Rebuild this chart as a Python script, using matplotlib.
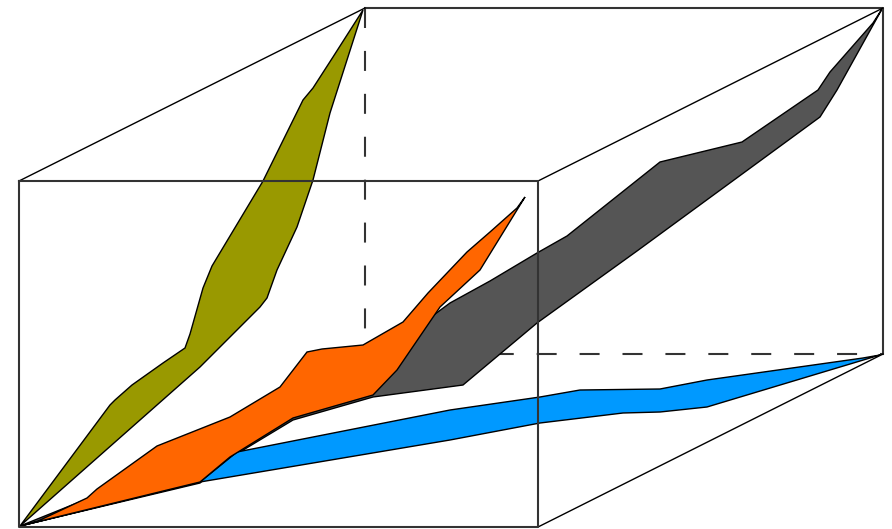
import numpy as np
import matplotlib.pyplot as plt

# box corners (chart coordinates, y grows downward)
front_x = [19, 538]
front_y = [181, 527]
back_x = [365, 883]
back_y = [8, 354]

# ribbons: upper and lower outline of each band
olive_top_x = [20, 110, 115, 132, 163, 185, 190, 203, 212, 263, 303, 313, 333, 363]
olive_top_y = [526, 405, 400, 385, 363, 348, 334, 288, 266, 181, 100, 88, 57, 10]
olive_bot_x = [20, 200, 260, 267, 277, 297, 313, 330, 363]
olive_bot_y = [526, 367, 307, 298, 270, 227, 180, 113, 10]

orange_top_x = [20, 38, 87, 97, 157, 230, 280, 307, 322, 363, 403, 428, 467, 490, 517, 525]
orange_top_y = [526, 521, 498, 489, 446, 417, 387, 352, 349, 345, 322, 293, 252, 232, 208, 197]
orange_bot_x = [20, 200, 230, 293, 373, 397, 440, 480, 525]
orange_bot_y = [526, 482, 457, 418, 395, 370, 307, 270, 197]

gray_top_x = [20, 87, 157, 230, 280, 330, 400, 450, 490, 537, 567, 660, 742, 818, 830, 873, 882]
gray_top_y = [526, 499, 448, 420, 395, 375, 340, 303, 281, 253, 236, 162, 142, 90, 72, 23, 9]
gray_bot_x = [20, 200, 230, 293, 373, 463, 537, 637, 820, 837, 882]
gray_bot_y = [526, 483, 458, 420, 397, 385, 323, 251, 117, 90, 9]

blue_top_x = [20, 200, 237, 450, 540, 580, 660, 707, 863, 880]
blue_top_y = [526, 482, 452, 410, 397, 390, 389, 380, 358, 355]
blue_bot_x = [20, 200, 450, 540, 623, 660, 707, 870, 880]
blue_bot_y = [526, 482, 440, 423, 413, 412, 407, 358, 355]


def ribbon(ax, tx, ty, bx, by, color, z):
    xs = np.concatenate([tx, bx[::-1]])
    ys = np.concatenate([ty, by[::-1]])
    ax.fill(xs, ys, facecolor=color, edgecolor='black', linewidth=1, zorder=z)


fig = plt.figure(figsize=(8.92, 5.29), dpi=100)
ax = fig.add_axes([0, 0, 1, 1])
ax.set_xlim(0, 892)
ax.set_ylim(529, 0)
ax.axis('off')

lc = '#333333'
dash = (0, (9.6, 11))
# hidden back edges
ax.plot([back_x[0], back_x[0]], [back_y[0], back_y[1]], color=lc, lw=1.5, ls=dash, zorder=1)
ax.plot([back_x[0], back_x[1]], [back_y[1], back_y[1]], color=lc, lw=1.5, ls=dash, zorder=1)

ribbon(ax, gray_top_x, gray_top_y, gray_bot_x, gray_bot_y, '#555555', 2)
ribbon(ax, blue_top_x, blue_top_y, blue_bot_x, blue_bot_y, '#0099ff', 3)
ribbon(ax, olive_top_x, olive_top_y, olive_bot_x, olive_bot_y, '#999900', 4)
ribbon(ax, orange_top_x, orange_top_y, orange_bot_x, orange_bot_y, '#ff6600', 5)

# visible back edges
ax.plot([back_x[0], back_x[1], back_x[1]], [back_y[0], back_y[0], back_y[1]], color=lc, lw=1.5, zorder=6)
# connectors
ax.plot([front_x[0], back_x[0]], [front_y[0], back_y[0]], color='black', lw=1, zorder=6)
ax.plot([front_x[1], back_x[1]], [front_y[0], back_y[0]], color='black', lw=1, zorder=6)
ax.plot([front_x[1], back_x[1]], [front_y[1], back_y[1]], color='black', lw=1, zorder=6)
# front face
ax.plot([front_x[0], front_x[1], front_x[1], front_x[0], front_x[0]],
        [front_y[0], front_y[0], front_y[1], front_y[1], front_y[0]],
        color=lc, lw=1.5, zorder=7)

fig.savefig('out.png', dpi=100)
